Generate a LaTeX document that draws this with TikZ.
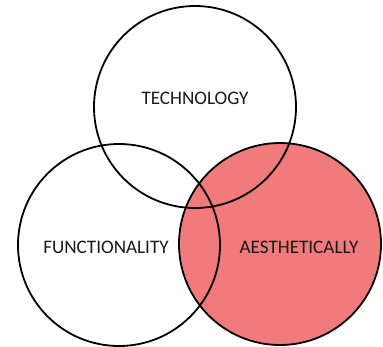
\documentclass[tikz,border=0pt]{standalone}
\usepackage{fontspec}
\setmainfont{Carlito}
\usepackage{xcolor}
\definecolor{rosered}{RGB}{240,122,124}

\begin{document}
\begin{tikzpicture}[x=1bp, y=-1bp, line width=1.8bp,
    set/.style = {draw, circle, minimum size=202bp, inner sep=0pt},
    word/.style = {font=\fontsize{19.2}{22}\selectfont, text=black!90}]
      \useasboundingbox (0,0) rectangle (383,347);
      \node[set, fill=rosered] (aes) at (280,244) {};
      \node[set] (tech) at (195,107) {};
      \node[set] (func) at (119,245) {};
      \node[word] (techlabel) at (195,98) {TECHNOLOGY};
      \node[word] (funclabel) at (106,247) {FUNCTIONALITY};
      \node[word] (aeslabel) at (299,247) {AESTHETICALLY};
  \end{tikzpicture}
\end{document}
